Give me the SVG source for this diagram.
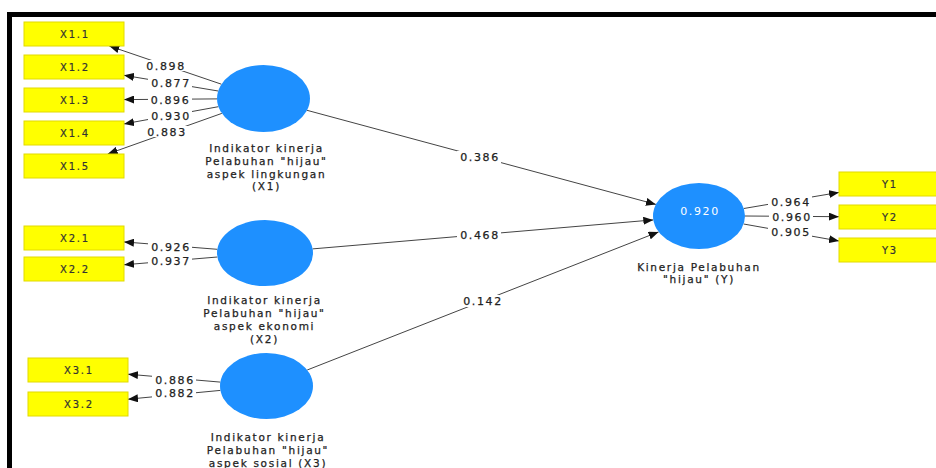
<svg xmlns="http://www.w3.org/2000/svg" width="936" height="468" viewBox="0 0 936 468">
<style>
.box{fill:#FFFF00;stroke:#E2DA00;stroke-width:1}
.lv{fill:#1E90FF}
.bt{font-family:"DejaVu Sans",Verdana,sans-serif;font-size:10px;letter-spacing:1.8px;fill:#333;stroke:#333;stroke-width:0.2;text-anchor:middle}
.nm{font-family:"DejaVu Sans",Verdana,sans-serif;font-size:10.5px;letter-spacing:1.7px;fill:#222;stroke:#222;stroke-width:0.25;text-anchor:middle}
.num{font-family:"DejaVu Sans",Verdana,sans-serif;font-size:11px;letter-spacing:1.6px;fill:#222;stroke:#222;stroke-width:0.25;text-anchor:middle}
.r2{font-family:"DejaVu Sans",Verdana,sans-serif;font-size:11px;letter-spacing:1.6px;fill:#fff;text-anchor:middle}
.ln{stroke:#444;stroke-width:1;fill:none;marker-end:url(#arr)}
.bg{fill:#fff}
</style>
<defs>
<marker id="arr" markerWidth="10" markerHeight="8" refX="10" refY="4" orient="auto" markerUnits="userSpaceOnUse">
<path d="M0,0 L10,4 L0,8 z" fill="#111"/>
</marker>
</defs>
<rect x="0" y="0" width="936" height="468" fill="#fff"/>
<rect x="7" y="12" width="930" height="5" fill="#000"/>
<rect x="7" y="12" width="5" height="456" fill="#000"/>

<g id="connectors">
<line class="ln" x1="221.4" y1="84.2" x2="109.3" y2="46"/>
<line class="ln" x1="218.2" y1="91" x2="124" y2="75.3"/>
<line class="ln" x1="217" y1="98.9" x2="124" y2="99.6"/>
<line class="ln" x1="218.4" y1="106.7" x2="124" y2="123.9"/>
<line class="ln" x1="221.8" y1="113.4" x2="107.7" y2="154"/>
<line class="ln" x1="217.3" y1="249.3" x2="124" y2="241.9"/>
<line class="ln" x1="217.4" y1="257" x2="124" y2="264.8"/>
<line class="ln" x1="220.3" y1="382.1" x2="128" y2="374.2"/>
<line class="ln" x1="220.4" y1="390.4" x2="128" y2="399.2"/>
<line class="ln" x1="743.8" y1="208.5" x2="839" y2="192.4"/>
<line class="ln" x1="745" y1="216" x2="839" y2="216.7"/>
<line class="ln" x1="743.6" y1="224" x2="839" y2="241"/>
<line class="ln" x1="307" y1="110.3" x2="655.9" y2="204.4"/>
<line class="ln" x1="312.6" y1="248.9" x2="653.3" y2="219.9"/>
<line class="ln" x1="307.2" y1="370" x2="658.6" y2="231.9"/>
<g id="loadings">
<rect class="bg" x="144" y="60" width="44" height="11"/><text class="num" x="166" y="70">0.898</text>
<rect class="bg" x="148" y="77" width="44" height="11"/><text class="num" x="171" y="87">0.877</text>
<rect class="bg" x="148" y="94" width="44" height="11"/><text class="num" x="170.5" y="104">0.896</text>
<rect class="bg" x="148" y="110" width="44" height="11"/><text class="num" x="171" y="120">0.930</text>
<rect class="bg" x="144" y="126" width="44" height="11"/><text class="num" x="167" y="136">0.883</text>
<rect class="bg" x="148" y="241" width="44" height="11"/><text class="num" x="171" y="251">0.926</text>
<rect class="bg" x="148" y="255" width="44" height="11"/><text class="num" x="171" y="265">0.937</text>
<rect class="bg" x="152" y="374" width="44" height="11"/><text class="num" x="175" y="384">0.886</text>
<rect class="bg" x="152" y="388" width="44" height="11"/><text class="num" x="175" y="397">0.882</text>
<rect class="bg" x="768" y="196" width="44" height="11"/><text class="num" x="791" y="206">0.964</text>
<rect class="bg" x="769" y="211" width="44" height="11"/><text class="num" x="792" y="221">0.960</text>
<rect class="bg" x="768" y="227" width="44" height="11"/><text class="num" x="791" y="236">0.905</text>
<rect class="bg" x="457" y="151" width="44" height="12"/><text class="num" x="480" y="161">0.386</text>
<rect class="bg" x="457" y="229" width="44" height="12"/><text class="num" x="480" y="239">0.468</text>
<rect class="bg" x="460" y="295" width="44" height="12"/><text class="num" x="483" y="305">0.142</text>
</g>
</g>

<g id="X1.1"><rect class="box" x="24" y="22" width="100" height="24"/><text class="bt" x="75" y="38">X1.1</text></g>
<g id="X1.2"><rect class="box" x="24" y="55" width="100" height="24"/><text class="bt" x="75" y="71">X1.2</text></g>
<g id="X1.3"><rect class="box" x="24" y="88" width="100" height="24"/><text class="bt" x="75" y="104">X1.3</text></g>
<g id="X1.4"><rect class="box" x="24" y="121" width="100" height="24"/><text class="bt" x="75" y="137">X1.4</text></g>
<g id="X1.5"><rect class="box" x="24" y="154" width="100" height="24"/><text class="bt" x="75" y="170">X1.5</text></g>
<g id="X2.1"><rect class="box" x="24" y="226" width="100" height="24"/><text class="bt" x="75" y="242">X2.1</text></g>
<g id="X2.2"><rect class="box" x="24" y="257" width="100" height="24"/><text class="bt" x="75" y="273">X2.2</text></g>
<g id="X3.1"><rect class="box" x="28" y="358" width="100" height="24"/><text class="bt" x="79" y="374">X3.1</text></g>
<g id="X3.2"><rect class="box" x="28" y="392" width="100" height="24"/><text class="bt" x="79" y="408">X3.2</text></g>
<g id="Y1"><rect class="box" x="839" y="172" width="100" height="24"/><text class="bt" x="890" y="188">Y1</text></g>
<g id="Y2"><rect class="box" x="839" y="205" width="100" height="24"/><text class="bt" x="890" y="221">Y2</text></g>
<g id="Y3"><rect class="box" x="839" y="238" width="100" height="24"/><text class="bt" x="890" y="254">Y3</text></g>

<g id="X1">
<ellipse class="lv" cx="263.5" cy="98.5" rx="46.5" ry="33.5"/>
<text class="nm" x="266.5" y="151.5">Indikator kinerja</text>
<text class="nm" x="266.5" y="164.5">Pelabuhan "hijau"</text>
<text class="nm" x="266.5" y="177.5">aspek lingkungan</text>
<text class="nm" x="266.5" y="190">(X1)</text>
</g>
<g id="X2">
<ellipse class="lv" cx="265" cy="253" rx="48" ry="33"/>
<text class="nm" x="264.5" y="304">Indikator kinerja</text>
<text class="nm" x="264.5" y="317">Pelabuhan "hijau"</text>
<text class="nm" x="264.5" y="330">aspek ekonomi</text>
<text class="nm" x="264.5" y="342.5">(X2)</text>
</g>
<g id="X3">
<ellipse class="lv" cx="266.5" cy="386" rx="46.5" ry="33"/>
<text class="nm" x="268" y="441">Indikator kinerja</text>
<text class="nm" x="268" y="454">Pelabuhan "hijau"</text>
<text class="nm" x="268" y="466.5">aspek sosial (X3)</text>
</g>
<g id="Y">
<ellipse class="lv" cx="699" cy="216" rx="46" ry="33"/>
<text class="r2" x="700" y="215">0.920</text>
<text class="nm" x="699" y="271">Kinerja Pelabuhan</text>
<text class="nm" x="699" y="283">"hijau" (Y)</text>
</g>
</svg>
